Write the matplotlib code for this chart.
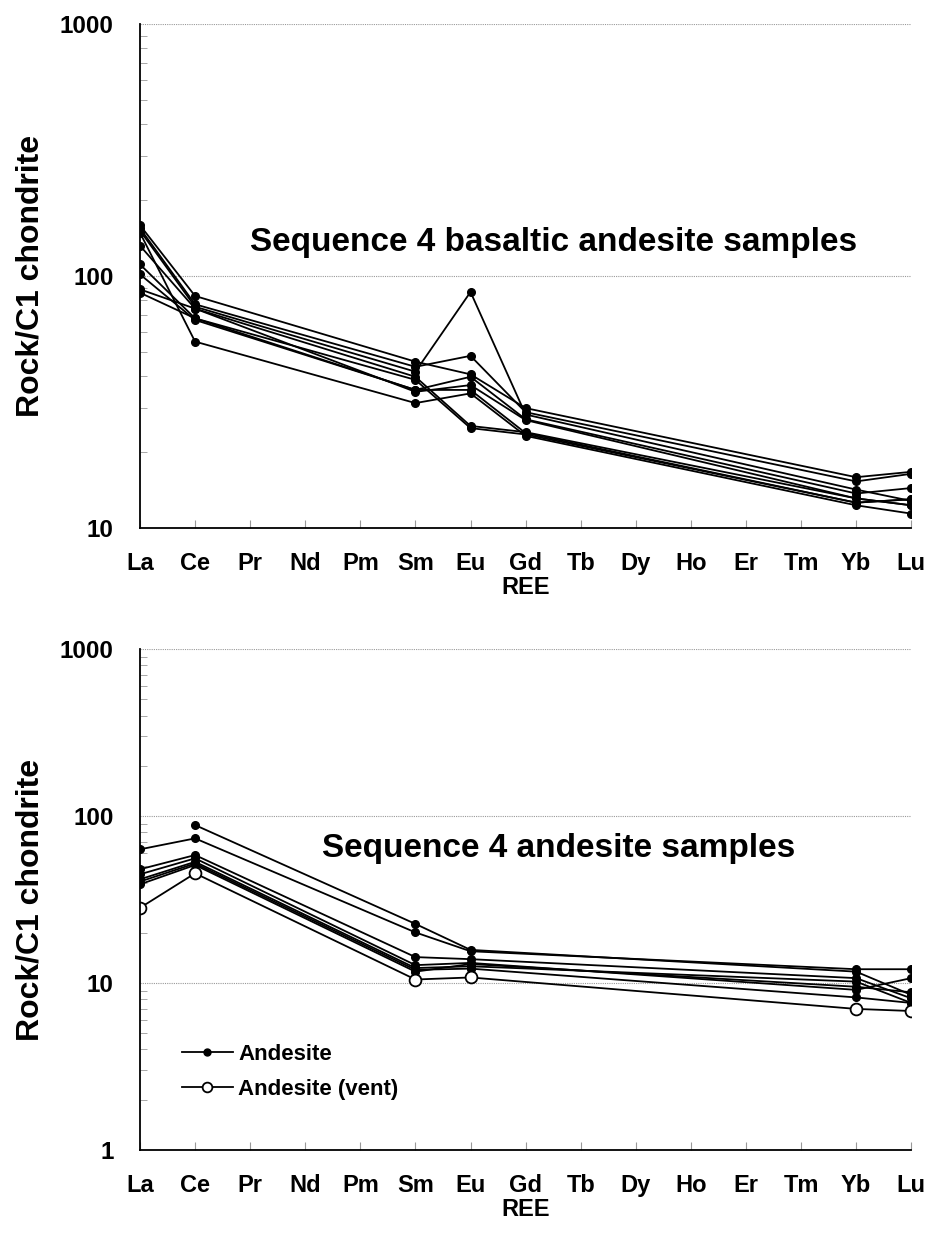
import numpy as np
import matplotlib
matplotlib.use('Agg')
from matplotlib import pyplot as plt
from matplotlib.ticker import LogLocator, NullFormatter, FixedLocator

plt.rcParams['font.family'] = ['Liberation Sans', 'DejaVu Sans']
plt.rcParams['font.weight'] = 'bold'

# REE categories (chondrite-normalised diagrams)
ree = ['La', 'Ce', 'Pr', 'Nd', 'Pm', 'Sm', 'Eu', 'Gd', 'Tb', 'Dy', 'Ho', 'Er', 'Tm', 'Yb', 'Lu']
nan = np.nan

# Top: basaltic andesite, values for La, Ce, Sm, Eu, Gd, Yb, Lu
top_idx = [0, 1, 5, 6, 7, 13, 14]
basaltic = [
    [159.0, 83.3, 45.7, 40.7, 29.9, 15.9, 16.7],
    [154.6, 77.2, 43.6, 48.2, 28.8, 15.3, 16.4],
    [151.4, 75.5, 41.7, 86.4, 28.2, 14.2, 12.8],
    [148.5, 54.9, 31.3, 34.2, 23.2, 12.3, 11.4],
    [131.9, 74.2, 39.8, 25.4, 24.0, 13.1, 12.3],
    [111.2, 67.9, 38.7, 24.9, 23.5, 12.6, 13.0],
    [101.5, 66.9, 35.3, 39.8, 27.0, 13.7, 14.4],
    [88.5, 74.2, 34.7, 36.9, 26.8, 13.1, 12.3],
    [85.8, 67.9, 35.3, 35.3, 23.8, 12.6, 13.0],
]

# Bottom: andesite, values for La, Ce, Sm, Eu, Yb, Lu
bot_idx = [0, 1, 5, 6, 13, 14]
andesite = [
    [nan, 88.3, 22.6, 15.8, 11.7, 8.5],
    [63.2, 73.5, 20.1, 15.5, 12.1, 12.1],
    [48.0, 58.4, 14.3, 13.9, 10.7, 8.1],
    [44.8, 55.8, 12.8, 13.2, 9.1, 10.7],
    [41.8, 53.2, 12.3, 12.6, 10.2, 7.6],
    [39.0, 50.9, 11.7, 13.0, 9.5, 8.8],
    [40.5, 52.0, 12.0, 12.2, 8.2, 7.6],
]
andesite_vent = [28.2, 45.4, 10.5, 10.8, 7.0, 6.8]

fig = plt.figure(figsize=(9.32, 12.37), dpi=100)
ax1 = fig.add_axes([0.1502, 0.5732, 0.8275, 0.4074])
ax2 = fig.add_axes([0.1502, 0.0703, 0.8275, 0.4050])


def style_axes(ax, ymin, ymax, yticks):
    ax.set_yscale('log')
    ax.set_ylim(ymin, ymax)
    ax.set_xlim(0, len(ree) - 1)
    ax.set_xticks(range(len(ree)))
    ax.set_xticklabels(ree, fontsize=17, fontweight='bold')
    ax.yaxis.set_major_locator(FixedLocator(yticks))
    ax.set_yticklabels([str(t) for t in yticks], fontsize=17.5, fontweight='bold')
    ax.yaxis.set_minor_locator(LogLocator(base=10, subs=np.arange(2, 10)))
    ax.yaxis.set_minor_formatter(NullFormatter())
    ax.tick_params(axis='y', which='major', length=0, pad=19)
    ax.tick_params(axis='y', which='minor', direction='in', length=5, color='#999999')
    ax.tick_params(axis='x', direction='in', length=6, color='#999999', pad=17)
    ax.grid(axis='y', which='major', color='#999999', lw=0.8, ls=(0, (1, 1)))
    for s in ['top', 'right']:
        ax.spines[s].set_visible(False)
    for s in ['left', 'bottom']:
        ax.spines[s].set_linewidth(1.3)
    ax.set_xlabel('REE', fontsize=17, fontweight='bold', labelpad=1)
    ax.set_ylabel('Rock/C1 chondrite', fontsize=23, fontweight='bold', labelpad=10)


style_axes(ax1, 10, 1000, [10, 100, 1000])
for row in basaltic:
    ax1.plot(top_idx, row, color='black', lw=1.3, marker='o', ms=5.5, mfc='black', mec='black')
ax1.text(7.5, 136, 'Sequence 4 basaltic andesite samples', fontsize=24, fontweight='bold',
         ha='center', va='center')

style_axes(ax2, 1, 1000, [1, 10, 100, 1000])
for i, row in enumerate(andesite):
    y = np.array(row)
    x = np.array(bot_idx)
    m = ~np.isnan(y)
    ax2.plot(x[m], y[m], color='black', lw=1.3, marker='o', ms=5.5, mfc='black', mec='black',
             label='Andesite' if i == 0 else None)
ax2.plot(bot_idx, andesite_vent, color='black', lw=1.3, marker='o', ms=8.5, mfc='white',
         mec='black', mew=1.3, label='Andesite (vent)')
ax2.text(7.6, 64, 'Sequence 4 andesite samples', fontsize=24, fontweight='bold',
         ha='center', va='center')
leg = ax2.legend(loc='lower left', bbox_to_anchor=(0.028, 0.06), frameon=False,
                 prop={'weight': 'bold', 'size': 16}, handlelength=2.3, labelspacing=0.62,
                 handletextpad=0.25)
for h in leg.legend_handles:
    h.set_markersize(5 if h.get_label() == 'Andesite' else 7)

fig.savefig('out.png', dpi=100)
